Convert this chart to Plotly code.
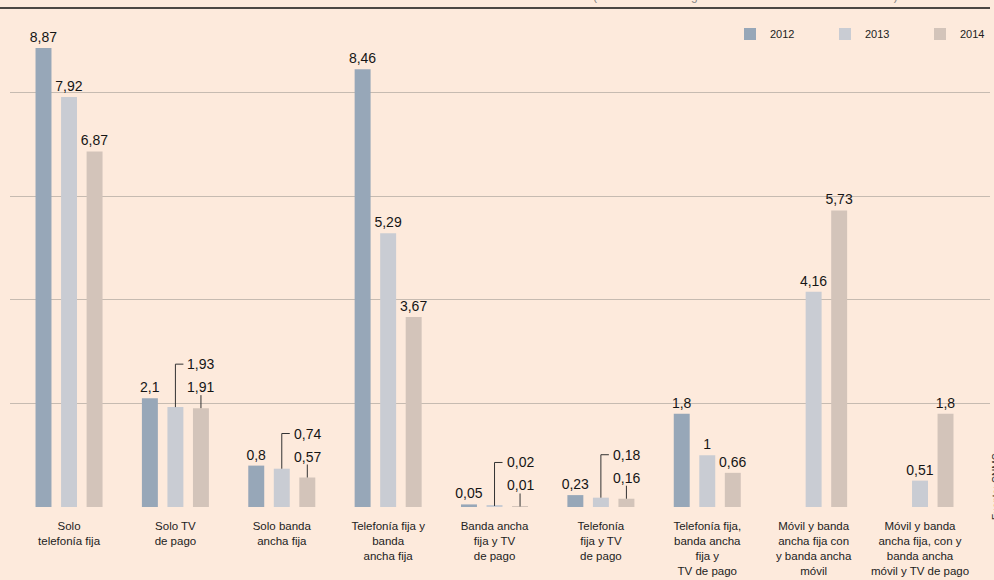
import plotly.graph_objects as go

# ---------------- data ----------------
categories = [
    "Solo<br>telefonía fija",
    "Solo TV<br>de pago",
    "Solo banda<br>ancha fija",
    "Telefonía fija y<br>banda<br>ancha fija",
    "Banda ancha<br>fija y TV<br>de pago",
    "Telefonía<br>fija y TV<br>de pago",
    "Telefonía fija,<br>banda ancha<br>fija y<br>TV de pago",
    "Móvil y banda<br>ancha fija con<br>y banda ancha<br>móvil",
    "Móvil y banda<br>ancha fija, con y<br>banda ancha<br>móvil y TV de pago",
]
years = ["2012", "2013", "2014"]
v2012 = [8.87, 2.1, 0.8, 8.46, 0.05, 0.23, 1.8, None, None]
v2013 = [7.92, 1.93, 0.74, 5.29, 0.02, 0.18, 1, 4.16, 0.51]
v2014 = [6.87, 1.91, 0.57, 3.67, 0.01, 0.16, 0.66, 5.73, 1.8]
series = [v2012, v2013, v2014]

# bars whose label is moved up with a leader line: (category index, series index)
leader = [(1, 1), (1, 2), (2, 1), (2, 2), (4, 1), (4, 2), (5, 1), (5, 2)]

# ---------------- style ----------------
BG = "#fdeadc"
colors = ["#97a7b8", "#c9ccd3", "#d3c4ba"]
W, H = 994, 580
ML, MR, MT, MB = 10, 4, 20, 73
XR = [-0.555, 8.658]
YR = [0, 9.41]
pw, ph = W - ML - MR, H - MT - MB
ux = (XR[1] - XR[0]) / pw   # data units per pixel
uy = (YR[1] - YR[0]) / ph
slot = 0.24                 # group offset of each series (1 - bargap) / 3
LBL = dict(family="Liberation Sans", size=14, color="#151515")


def fmt(v):
    return str(v).replace(".", ",")


x = list(range(len(categories)))
fig = go.Figure()
for s, (name, vals) in enumerate(zip(years, series)):
    txt = []
    for i, v in enumerate(vals):
        if v is None or (i, s) in leader:
            txt.append("")
        else:
            txt.append(fmt(v))
    fig.add_trace(go.Bar(
        x=x, y=vals, name=name, marker_color=colors[s], marker_line_width=0,
        text=txt, textposition="outside", constraintext="none", cliponaxis=False,
        textfont=LBL, hoverinfo="skip",
    ))

annotations = []
for (i, s) in leader:
    v = series[s][i]
    xc = i + (s - 1) * slot
    top14 = series[2][i]
    if s == 2:
        ly = v + 21 * uy
        fig.add_trace(go.Scatter(x=[xc, xc], y=[v, ly - 8 * uy], mode="lines",
                                 line=dict(color="#333333", width=1),
                                 showlegend=False, hoverinfo="skip", cliponaxis=False))
        annotations.append(dict(x=xc, y=ly, text=fmt(v), showarrow=False,
                                xanchor="center", yanchor="middle", font=LBL))
    else:
        ly = top14 + 44 * uy
        fig.add_trace(go.Scatter(x=[xc, xc, xc + 8 * ux], y=[v, ly, ly], mode="lines",
                                 line=dict(color="#333333", width=1),
                                 showlegend=False, hoverinfo="skip", cliponaxis=False))
        annotations.append(dict(x=xc + 10 * ux, y=ly, text=fmt(v), showarrow=False,
                                xanchor="left", yanchor="middle", font=LBL))

# header rule and partially visible header texts
fig.add_shape(type="line", xref="paper", yref="paper",
              x0=-ML / pw, x1=(990 - ML) / pw,
              y0=(H - MB - 8) / ph, y1=(H - MB - 8) / ph,
              line=dict(color="#111111", width=1.5))
annotations.append(dict(xref="paper", yref="paper", x=(745 - ML) / pw, y=(H - MB - 5) / ph,
                        text="(en millones de hogares. Datos a diciembre de cada año)",
                        showarrow=False, xanchor="center", yanchor="bottom",
                        font=dict(family="Liberation Sans", size=12, color="#888888")))
annotations.append(dict(xref="paper", yref="paper", x=(996 - ML) / pw, y=(H - MB - 487) / ph,
                        text="Fuente: CNMC", textangle=-90, showarrow=False,
                        xanchor="center", yanchor="middle",
                        font=dict(family="Liberation Sans", size=10, color="#333333")))

fig.update_layout(
    width=W, height=H, margin=dict(l=ML, r=MR, t=MT, b=MB, autoexpand=False),
    paper_bgcolor=BG, plot_bgcolor=BG,
    barmode="group", bargap=0.28, bargroupgap=0.375,
    separators=",.",
    showlegend=True,
    legend=dict(orientation="h", x=(730 - ML) / pw, y=(H - MB - 34) / ph,
                xanchor="left", yanchor="middle", bgcolor="rgba(0,0,0,0)",
                entrywidth=50, entrywidthmode="pixels",
                font=dict(family="Liberation Sans", size=11, color="#222222"),
                traceorder="normal"),
    annotations=annotations,
    font=dict(family="Liberation Sans"),
)
fig.update_xaxes(range=XR, tickmode="array", tickvals=x, ticktext=categories,
                 showgrid=False, zeroline=False, showline=False,
                 ticks="outside", ticklen=8, tickcolor="rgba(0,0,0,0)",
                 tickfont=dict(family="Liberation Sans", size=11.5, color="#222222"))
fig.update_yaxes(range=YR, dtick=2, showgrid=True, gridcolor="#c6bbb1", gridwidth=1,
                 zeroline=False, showline=False, showticklabels=False)

fig.write_html("out.html")
